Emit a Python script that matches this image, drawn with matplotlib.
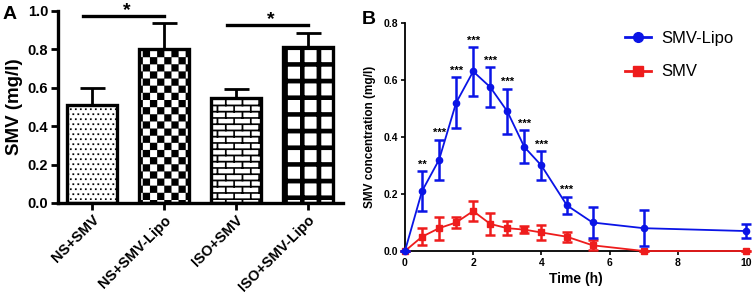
import warnings
import numpy as np
import matplotlib
matplotlib.use("Agg")
import matplotlib.pyplot as plt
import matplotlib.hatch as mhatch
from matplotlib.path import Path
from matplotlib.lines import Line2D

warnings.filterwarnings("ignore")

# ---- data: panel A ----
groups = ["NS+SMV", "NS+SMV-Lipo", "ISO+SMV", "ISO+SMV-Lipo"]
smv_mean = [0.51, 0.80, 0.545, 0.81]
smv_sd = [0.09, 0.14, 0.05, 0.075]
textures = ["D", "C", "B", "G"]

# ---- data: panel B ----
time_h = [0, 0.5, 1, 1.5, 2, 2.5, 3, 3.5, 4, 4.75, 5.5, 7, 10]
lipo_mean = [0, 0.21, 0.32, 0.52, 0.63, 0.575, 0.49, 0.365, 0.30, 0.16, 0.10, 0.08, 0.07]
lipo_sd = [0, 0.07, 0.07, 0.09, 0.085, 0.07, 0.08, 0.058, 0.05, 0.03, 0.055, 0.063, 0.023]
smv_b_mean = [0, 0.05, 0.08, 0.10, 0.14, 0.095, 0.08, 0.075, 0.065, 0.05, 0.02, 0, 0]
smv_b_sd = [0, 0.03, 0.04, 0.02, 0.035, 0.04, 0.025, 0.013, 0.025, 0.018, 0.018, 0, 0]
sig_labels = ["", "**", "***", "***", "***", "***", "***", "***", "***", "***", "", "", ""]


# ---- custom fill textures (drawn through matplotlib's hatch machinery) ----
def rect_path(rects):
    verts, codes = [], []
    for x0, y0, x1, y1 in rects:
        verts += [(x0, y0), (x1, y0), (x1, y1), (x0, y1), (x0, y0)]
        codes += [Path.MOVETO, Path.LINETO, Path.LINETO, Path.LINETO, Path.CLOSEPOLY]
    return np.array(verts, float), np.array(codes, Path.code_type)


def checker(n=14):
    s = 1.0 / n
    return rect_path([(i * s, j * s, (i + 1) * s, (j + 1) * s)
                      for i in range(n) for j in range(n) if (i + j) % 2 == 0])


def bricks(rows=16, per=6, t=0.016):
    h = 1.0 / rows
    w = 1.0 / per
    rects = []
    for r in range(rows):
        y = r * h
        rects.append((0, y, 1, y + t))
        off = (r % 2) * w / 2
        for k in range(per):
            x = k * w + off
            if x + t <= 1:
                rects.append((x, y, x + t, y + h))
    return rect_path(rects)


def grid(n=6, t=0.045):
    s = 1.0 / n
    rects = []
    for i in range(n):
        rects.append((i * s, 0, i * s + t, 1))
        rects.append((0, i * s, 1, i * s + t))
    return rect_path(rects)


def dots(n=20, d=0.016):
    s = 1.0 / n
    rects = []
    for r in range(n):
        off = (r % 2) * s / 2
        for k in range(n):
            x = k * s + off
            y = r * s
            rects.append((x, y, x + d, y + d))
    return rect_path(rects)


TEX = {"C": checker(), "B": bricks(), "G": grid(), "D": dots()}


class TextureHatch(mhatch.HatchPatternBase):
    def __init__(self, hatch, density):
        self.key = next((c for c in hatch if c in TEX), None)
        self.num_vertices = len(TEX[self.key][0]) if self.key else 0

    def set_vertices_and_codes(self, vertices, codes):
        v, c = TEX[self.key]
        vertices[:] = v
        codes[:] = c


mhatch._hatch_types.append(TextureHatch)

plt.rcParams["font.family"] = ["Liberation Sans", "DejaVu Sans"]
plt.rcParams["hatch.linewidth"] = 0.1
plt.rcParams["hatch.color"] = "black"

fig = plt.figure(figsize=(7.53, 2.97), dpi=100)

# ================= Panel A =================
axA = fig.add_axes([0.077, 0.3165, 0.3785, 0.6465])
x = np.arange(len(groups))
bars = axA.bar(x, smv_mean, width=0.69, color="white", edgecolor="black",
               linewidth=2.4, zorder=2)
for b, t in zip(bars, textures):
    b.set_hatch(t)
axA.errorbar(x, smv_mean, yerr=[[0] * 4, smv_sd], fmt="none", ecolor="black",
             elinewidth=2, capsize=9, capthick=2, zorder=1)

# significance bars
axA.plot([-0.12, 1.0], [0.974, 0.974], color="black", lw=2.4, clip_on=False)
axA.text(0.48, 0.96, "*", ha="center", va="bottom", fontsize=14, fontweight="bold")
axA.plot([1.88, 3.0], [0.927, 0.927], color="black", lw=2.4, clip_on=False)
axA.text(2.48, 0.913, "*", ha="center", va="bottom", fontsize=14, fontweight="bold")

axA.set_xlim(-0.47, 3.49)
axA.set_ylim(0, 1.0)
axA.set_yticks([0, 0.2, 0.4, 0.6, 0.8, 1.0])
axA.set_yticklabels(["0.0", "0.2", "0.4", "0.6", "0.8", "1.0"])
axA.set_xticks(x)
axA.set_xticklabels(groups, rotation=45, ha="right", rotation_mode="anchor")
axA.set_ylabel("SMV (mg/l)", fontsize=13.5, fontweight="bold", labelpad=3)
for s in ["top", "right"]:
    axA.spines[s].set_visible(False)
for s in ["left", "bottom"]:
    axA.spines[s].set_linewidth(2.4)
axA.tick_params(width=2, length=5, labelsize=10.5, pad=2)
for lab in axA.get_xticklabels() + axA.get_yticklabels():
    lab.set_fontweight("bold")
fig.text(0.004, 0.95, "A", fontsize=14, fontweight="bold", va="center")

# ================= Panel B =================
axB = fig.add_axes([0.5378, 0.1549, 0.4529, 0.7677])
blue = "#0a14e6"
red = "#ee1c1c"
axB.errorbar(time_h, smv_b_mean, yerr=smv_b_sd, color=red, marker="s", ms=4.5,
             lw=1.3, elinewidth=1.8, capsize=3.5, capthick=1.8,
             clip_on=False, zorder=3)
axB.errorbar(time_h, lipo_mean, yerr=lipo_sd, color=blue, marker="o", ms=4.5,
             lw=1.3, elinewidth=1.8, capsize=3.5, capthick=1.8,
             clip_on=False, zorder=4)
for t, m, s, lab in zip(time_h, lipo_mean, lipo_sd, sig_labels):
    if lab:
        axB.text(t, m + s + 0.006, lab, ha="center", va="bottom", fontsize=8,
                 fontweight="bold")

axB.set_xlim(0, 10)
axB.set_ylim(0, 0.8)
axB.set_xticks([0, 2, 4, 6, 8, 10])
axB.set_yticks([0, 0.2, 0.4, 0.6, 0.8])
axB.set_yticklabels(["0.0", "0.2", "0.4", "0.6", "0.8"])
axB.set_xlabel("Time (h)", fontsize=10, fontweight="bold", labelpad=3)
axB.set_ylabel("SMV concentration (mg/l)", fontsize=8.5, fontweight="bold", labelpad=5)
for s in ["top", "right"]:
    axB.spines[s].set_visible(False)
for s in ["left", "bottom"]:
    axB.spines[s].set_linewidth(1.3)
axB.tick_params(width=1.2, length=3, labelsize=7.5, pad=2)
for lab in axB.get_xticklabels() + axB.get_yticklabels():
    lab.set_fontweight("bold")

handles = [Line2D([], [], color=blue, marker="o", ms=7, lw=2),
           Line2D([], [], color=red, marker="s", ms=7, lw=2)]
axB.legend(handles, ["SMV-Lipo", "SMV"], loc="upper left",
           bbox_to_anchor=(0.6, 1.03), frameon=False, fontsize=12,
           handlelength=1.6, labelspacing=1.1, handletextpad=0.6)
fig.text(0.481, 0.936, "B", fontsize=14, fontweight="bold", va="center")

fig.savefig("out.png", dpi=100)
